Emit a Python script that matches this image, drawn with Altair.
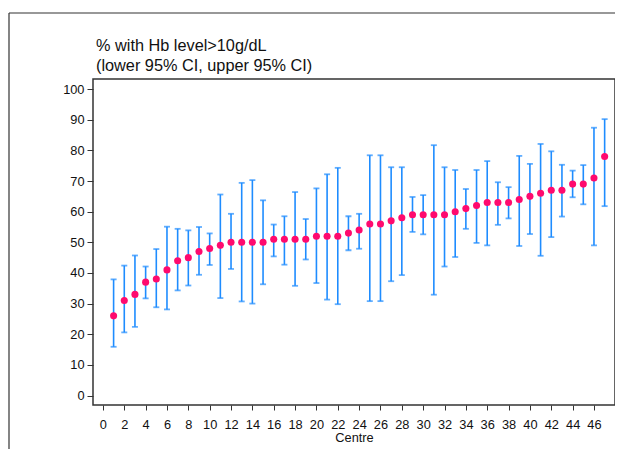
import altair as alt
import pandas as pd

# ---- data ----
centre = list(range(1, 48))
pct = [26, 31, 33, 37, 38, 41, 44, 45, 47, 48, 49, 50, 50, 50, 50, 51, 51, 51, 51, 52,
       52, 52, 53, 54, 56, 56, 57, 58, 59, 59, 59, 59, 60, 61, 62, 63, 63, 63, 64, 65,
       66, 67, 67, 69, 69, 71, 78]
lower = [15.9, 20.6, 22.4, 31.7, 28.8, 28.1, 34.3, 35.9, 39.4, 42.6, 31.8, 41.3, 30.7, 30.0,
         36.3, 45.4, 42.7, 35.8, 44.4, 36.7, 31.3, 29.8, 47.4, 47.9, 30.8, 30.8, 37.3, 39.3,
         53.4, 52.6, 32.9, 42.1, 45.2, 54.4, 49.8, 49.0, 55.7, 57.8, 48.8, 52.7, 45.6, 51.7,
         58.4, 64.7, 62.4, 49.0, 61.8]
upper = [37.9, 42.4, 45.7, 42.1, 47.8, 55.1, 54.4, 53.9, 55.0, 52.9, 65.6, 59.3, 69.4, 70.3,
         63.7, 55.8, 58.5, 66.4, 57.6, 67.6, 72.2, 74.3, 58.5, 59.3, 78.4, 78.4, 74.5, 74.5,
         64.8, 65.4, 81.7, 74.5, 73.6, 67.4, 73.6, 76.5, 69.6, 68.0, 78.2, 75.6, 82.1, 79.7,
         75.3, 73.4, 75.2, 87.4, 90.2]
x_ticks = list(range(0, 47, 2))
y_ticks = list(range(0, 101, 10))
title_lines = ["% with Hb level>10g/dL", "(lower 95% CI, upper 95% CI)"]
x_title = "Centre"

df = pd.DataFrame({"centre": centre, "pct": pct, "lower": lower, "upper": upper})

W, H = 522, 326
BLUE = "#1E8CFF"
PINK = "#FF0A6E"
FONT = "Liberation Sans"
DARK = "#333333"
TXT = "#111111"

xscale = alt.Scale(domain=[-0.93, 47.97], nice=False, zero=False)
yscale = alt.Scale(domain=[-3.1, 103.3], nice=False, zero=False)


def xenc():
    return alt.X("centre:Q", scale=xscale, title=x_title,
                 axis=alt.Axis(values=x_ticks, tickSize=5, labelPadding=8, titlePadding=1,
                               labelOverlap=False, labelFlush=False))


def yenc(field):
    return alt.Y(field, scale=yscale, title=None,
                 axis=alt.Axis(values=y_ticks, tickSize=6, labelPadding=3,
                               labelOverlap=False, labelFlush=False))


base = alt.Chart(df)

bars = base.mark_rule(color=BLUE, strokeWidth=1.6).encode(
    x=xenc(), y=yenc("lower:Q"), y2="upper:Q",
)
cap_lo = base.mark_tick(color=BLUE, orient="horizontal", size=6, thickness=1.8).encode(
    x=xenc(), y=yenc("lower:Q"),
)
cap_hi = base.mark_tick(color=BLUE, orient="horizontal", size=6, thickness=1.8).encode(
    x=xenc(), y=yenc("upper:Q"),
)
points = base.mark_circle(color=PINK, size=50, opacity=1).encode(
    x=xenc(), y=yenc("pct:Q"),
)

one = alt.Data(values=[{"k": 0}])
outer_left = alt.Chart(one).mark_rule(color=DARK, strokeWidth=1.2).encode(
    x=alt.value(-84), y=alt.value(-66), y2=alt.value(H + 60)
)
outer_top = alt.Chart(one).mark_rule(color=DARK, strokeWidth=1.2).encode(
    x=alt.value(-84), x2=alt.value(W + 10), y=alt.value(-66)
)
title1 = alt.Chart(one).mark_text(align="left", baseline="alphabetic", fontSize=16.3,
                                  font=FONT, color=TXT, text=title_lines[0]).encode(
    x=alt.value(3), y=alt.value(-28.3)
)
title2 = alt.Chart(one).mark_text(align="left", baseline="alphabetic", fontSize=16.3,
                                  font=FONT, color=TXT, text=title_lines[1]).encode(
    x=alt.value(3), y=alt.value(-8)
)

chart = alt.layer(outer_left, outer_top, title1, title2, bars, cap_lo, cap_hi, points).properties(
    width=W,
    height=H,
    autosize=alt.AutoSizeParams(type="none"),
    padding={"left": 85, "top": 71, "right": 0, "bottom": 44},
).configure(
    font=FONT,
).configure_axis(
    grid=False, domain=False, tickColor=DARK, tickWidth=1,
    labelFontSize=12.8, labelColor=TXT, labelFont=FONT,
    titleFontSize=12.8, titleFontWeight="normal", titleColor=TXT, titleFont=FONT,
).configure_axisX(
    labelAngle=0,
).configure_view(
    stroke=DARK, strokeWidth=1.5
)

chart.save("out.html", embed_options={"renderer": "svg", "actions": False})
